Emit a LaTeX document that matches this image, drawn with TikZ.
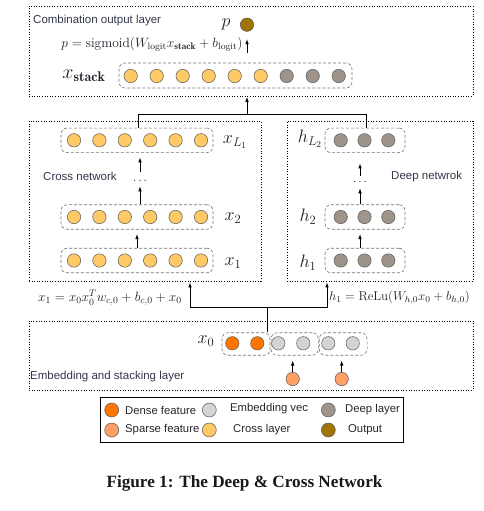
\RequirePackage{fix-cm}
\documentclass[tikz,border=0pt]{standalone}
\usepackage{fontspec}
\newfontfamily\labfont{Liberation Sans}
\newfontfamily\capfont{Liberation Serif}
\usetikzlibrary{arrows.meta}
\definecolor{crossc}{RGB}{255,201,102}
\definecolor{deepc}{RGB}{158,148,138}
\definecolor{densec}{RGB}{255,117,0}
\definecolor{sparsec}{RGB}{255,160,102}
\definecolor{embc}{RGB}{212,212,212}
\definecolor{outc}{RGB}{160,116,0}
\definecolor{labc}{RGB}{50,55,72}
\definecolor{mathc}{RGB}{30,30,40}
\tikzset{
  neuron/.style={circle, draw=black!65, line width=0.5pt, minimum size=13.4pt, inner sep=0pt},
  legneuron/.style={circle, draw=black!65, line width=0.5pt, minimum size=14pt, inner sep=0pt},
  groupbox/.style={draw=black!55, dash pattern=on 3pt off 2pt, rounded corners=6pt, line width=0.6pt, inner sep=0pt},
  layerbox/.style={draw=black, dash pattern=on 1pt off 1.6pt, line width=0.8pt, inner sep=0pt},
  arr/.style={-{Latex[length=5pt,width=3.6pt]}, line width=0.8pt},
  conn/.style={line width=0.8pt},
  lab/.style={font=\labfont\fontsize{11.5}{13}\selectfont, text=labc, inner sep=0pt},
  leg/.style={font=\labfont\fontsize{11.3}{13}\selectfont, text=black!85, inner sep=0pt, anchor=west},
  bigmath/.style={font=\fontsize{18}{20}\selectfont, text=mathc, inner sep=0pt},
  formula/.style={font=\fontsize{13.5}{15}\selectfont, text=mathc, inner sep=0pt},
  dotsnode/.style={font=\fontsize{12}{14}\selectfont, inner sep=0pt}
}
\begin{document}
\begin{tikzpicture}[x=1pt,y=-1pt]
\useasboundingbox (0,0) rectangle (483,511);

% ---------------- Combination output layer ----------------
\node[layerbox, minimum width=444pt, minimum height=90pt] (topbox) at (251,51) {};
\node[lab, anchor=west] (toplab) at (33,21) {Combination output layer};
\node[bigmath] (plab) at (226,24) {$p$};
\node[neuron, fill=outc] (out) at (247,24.7) {};
\node[formula] (pform) at (152,44) {$p=\mathrm{sigmoid}(W_{\mathrm{logit}}x_{\mathbf{stack}}+b_{\mathrm{logit}})$};
\node[bigmath, font=\fontsize{20}{22}\selectfont] (xslab) at (84,76) {$x_{\mathbf{stack}}$};
\node[groupbox, minimum width=233pt, minimum height=25pt] (stack) at (235.5,75.5) {};
\foreach \i in {0,...,5} {\node[neuron, fill=crossc] (st\i) at (130.7+26*\i,76) {};}
\foreach \i in {6,7,8} {\node[neuron, fill=deepc] (st\i) at (130.7+26*\i,76) {};}
\draw[arr, shorten <=10pt, shorten >=7.5pt] (stack.north -| out) -- (out.south);

% ---------------- Cross network ----------------
\node[layerbox, minimum width=232pt, minimum height=160pt] (crossbox) at (145,201) {};
\node[lab, anchor=west] (crosslab) at (43,176) {Cross network};
\foreach \n/\y in {xL/140.3, xb/217, xa/260.5} {
  \node[groupbox, minimum width=152pt, minimum height=24.5pt] (\n) at (137,\y) {};
  \foreach \i in {0,...,5} {\node[neuron, fill=crossc] (\n c\i) at (74+25.4*\i,\y) {};}
}
\node[bigmath] (xLlab) at (235,142) {$x_{L_1}$};
\node[bigmath] (xblab) at (233,218) {$x_2$};
\node[bigmath] (xalab) at (233,263) {$x_1$};
\node[dotsnode] (cdots) at (140,180.5) {$\ldots$};
\draw[arr, shorten >=5pt] (xb.north -| cdots) -- (cdots);
\draw[arr, shorten <=8pt, shorten >=4.5pt] (cdots) -- (xL.south -| cdots);
\draw[arr, shorten >=4.5pt] (xa.north) -- (xb.south);

% ---------------- Deep network ----------------
\node[layerbox, minimum width=186pt, minimum height=160pt] (deepbox) at (380,201) {};
\node[lab, anchor=west] (deeplab) at (391,177) {Deep netwrok};
\foreach \n/\y in {hL/140.3, hb/217, ha/260.5} {
  \node[groupbox, minimum width=80pt, minimum height=24.5pt] (\n) at (365,\y) {};
  \foreach \i in {0,1,2} {\node[neuron, fill=deepc] (\n c\i) at (340.7+23.8*\i,\y) {};}
}
\node[bigmath] (hLlab) at (310,139) {$h_{L_2}$};
\node[bigmath] (hblab) at (308,217) {$h_2$};
\node[bigmath] (halab) at (308,263) {$h_1$};
\node[dotsnode] (ddots) at (360,181.5) {$\ldots$};
\draw[arr, shorten >=6pt] (hb.north -| ddots) -- (ddots);
\draw[arr, shorten <=4.5pt, shorten >=10.5pt] (ddots) -- (hL.south -| ddots);
\draw[arr, shorten >=4.5pt] (ha.north -| ddots) -- (hb.south -| ddots);

% ---------------- join to output ----------------
\coordinate (jtop) at (247,114);
\draw[conn] ([xshift=1pt]xL.north) |- (jtop);
\draw[conn] ([xshift=1pt]hL.north) |- (jtop);
\draw[arr, shorten >=0.5pt] (jtop) -- (topbox.south -| jtop);

% ---------------- Embedding and stacking layer ----------------
\node[layerbox, minimum width=444pt, minimum height=69pt] (embbox) at (251,355.5) {};
\node[lab, anchor=west] (emblab) at (30,377) {Embedding and stacking layer};
\node[bigmath] (x0lab) at (206,341) {$x_0$};
\node[groupbox, minimum width=48pt, minimum height=22.5pt] (ga) at (246,344) {};
\node[groupbox, minimum width=47.3pt, minimum height=22.5pt] (gb) at (294.7,344) {};
\node[groupbox, minimum width=47.7pt, minimum height=22.5pt] (gc) at (343.2,344) {};
\node[neuron, fill=densec] (d1) at (232.3,343.3) {};
\node[neuron, fill=densec] (d2) at (257.3,343.3) {};
\node[neuron, fill=embc] (e1) at (278.3,343.3) {};
\node[neuron, fill=embc] (e2) at (303.3,343.3) {};
\node[neuron, fill=embc] (e3) at (328.3,343.3) {};
\node[neuron, fill=embc] (e4) at (352.7,343.3) {};
\node[neuron, fill=sparsec] (s1) at (292.7,379) {};
\node[neuron, fill=sparsec] (s2) at (341.7,379) {};
\draw[arr, shorten >=5pt] (s1) -- (s1 |- gb.south);
\draw[arr, shorten >=5pt] (s2) -- (s2 |- gc.south);

% ---------------- bottom connectors ----------------
\coordinate (jbot) at (267,307);
\coordinate (cl) at (190,307);
\coordinate (cr) at (327,307);
\draw[conn] (ga.north -| jbot) -- (jbot);
\draw[arr, shorten >=1pt] (jbot) -| (crossbox.south -| cl);
\draw[arr, shorten >=1pt] (jbot) -| (deepbox.south -| cr);
\node[formula] (xform) at (110,298) {$x_1=x_0x_0^Tw_{c,0}+b_{c,0}+x_0$};
\node[formula, font=\fontsize{12.8}{15}\selectfont, anchor=west] (hform) at (329,298) {$h_1=\mathrm{ReLu}(W_{h,0}x_0+b_{h,0})$};

% ---------------- legend ----------------
\node[draw=black, line width=0.9pt, minimum width=303pt, minimum height=45pt, inner sep=0pt] (legend) at (251.5,419.5) {};
\node[legneuron, fill=densec] (l1) at (111.7,410) {};
\node[leg] (t1) at (125,410) {Dense feature};
\node[legneuron, fill=sparsec] (l2) at (111.7,430) {};
\node[leg] (t2) at (125,430) {Sparse feature};
\node[legneuron, fill=embc] (l3) at (209.3,410) {};
\node[leg] (t3) at (230,408.5) {Embedding vec};
\node[legneuron, fill=crossc] (l4) at (209.3,430) {};
\node[leg] (t4) at (233,430) {Cross layer};
\node[legneuron, fill=deepc] (l5) at (328.3,410) {};
\node[leg] (t5) at (345,410) {Deep layer};
\node[legneuron, fill=outc] (l6) at (328.3,430) {};
\node[leg] (t6) at (348,430) {Output};

% ---------------- caption ----------------
\node[font=\capfont\bfseries\fontsize{17.2}{19}\selectfont, text=black!90, inner sep=0pt] (caption) at (244.5,483) {Figure 1: The Deep \& Cross Network};
\end{tikzpicture}
\end{document}
